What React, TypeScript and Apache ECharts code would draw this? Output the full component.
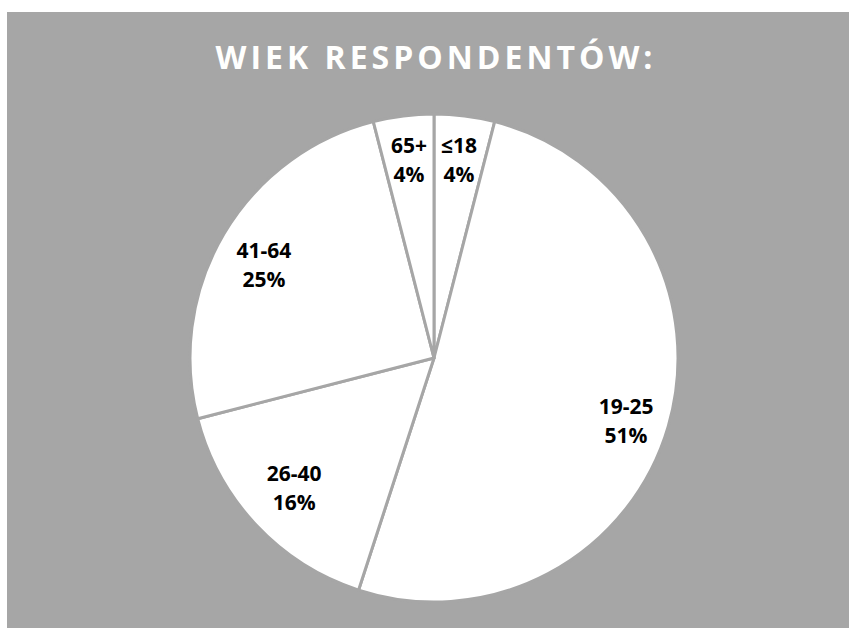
import React, { useEffect, useRef } from "react";
import * as echarts from "echarts";

const titleText = "WIEK RESPONDENTÓW:";
const categories = ["≤18", "19-25", "26-40", "41-64", "65+"];
const percents = [4, 51, 16, 25, 4];

const GRAY = "#a6a6a6";
const TITLE_COLOR = "#fffffe";
const FONT = "'Open Sans', 'Noto Sans', sans-serif";

// per-label nudges (dx, dy in px) to match the reference label placement
const labelNudge: Record<string, [number, number]> = {
  "19-25": [0, 7],
  "41-64": [2, 8],
  "26-40": [6, -7],
};

export default function App() {
  const ref = useRef<HTMLDivElement>(null);
  useEffect(() => {
    if (!ref.current) return;
    const chart = echarts.init(ref.current, undefined, { renderer: "svg" });
    const data = categories.map((c, i) => ({ name: c, value: percents[i] }));
    const labelData = categories.map((c, i) => {
      const n = labelNudge[c];
      if (!n) return { name: c, value: percents[i] };
      const [dx, dy] = n;
      const text = `${c}\n${percents[i]}%`;
      return {
        name: c,
        value: percents[i],
        label: {
          formatter: dy > 0 ? `{sp| }\n${text}` : `${text}\n{sp| }`,
          rich: { sp: { fontSize: 1, lineHeight: Math.abs(dy) * 2 } },
          padding: dx > 0 ? [0, 0, 0, dx * 2] : [0, -dx * 2, 0, 0],
        },
      };
    });
    chart.setOption({
      animation: false,
      backgroundColor: "#ffffff",
      title: {
        text: titleText,
        left: 431,
        top: 35,
        textAlign: "center",
        textStyle: {
          color: TITLE_COLOR,
          fontFamily: FONT,
          fontWeight: "bold",
          fontSize: 32,
        },
      },
      graphic: [
        {
          type: "rect",
          z: -10,
          silent: true,
          shape: { x: 7, y: 12, width: 842, height: 616 },
          style: { fill: GRAY },
        },
      ],
      series: [
        {
          type: "pie",
          center: [434, 358],
          radius: 244,
          startAngle: 90,
          clockwise: true,
          silent: true,
          label: { show: false },
          labelLine: { show: false },
          itemStyle: { color: "#ffffff", borderColor: GRAY, borderWidth: 3 },
          data,
        },
        {
          type: "pie",
          center: [434, 358],
          radius: [150, 244],
          startAngle: 90,
          clockwise: true,
          silent: true,
          itemStyle: { color: "rgba(0,0,0,0)", borderWidth: 0 },
          labelLine: { show: false },
          label: {
            show: true,
            position: "inside",
            color: "#000000",
            fontFamily: FONT,
            fontWeight: "bold",
            fontSize: 21,
            lineHeight: 29,
            formatter: (p: any) => `${p.name}\n${p.value}%`,
          },
          data: labelData,
        },
      ],
    });
    return () => chart.dispose();
  }, []);
  return (
    <>
      <style>{`#pie-chart text[fill="${TITLE_COLOR}"] { letter-spacing: 4px; }`}</style>
      <div
        id="pie-chart"
        ref={ref}
        style={{ position: "fixed", left: 0, top: 0, width: 849, height: 628 }}
      />
    </>
  );
}
